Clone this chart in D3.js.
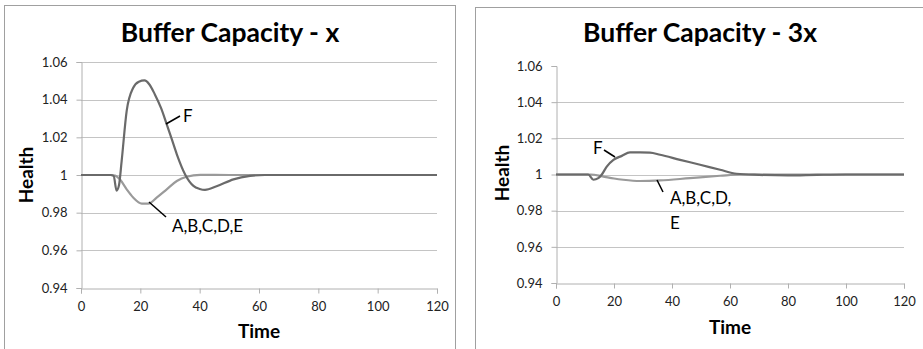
<!DOCTYPE html>
<html><head><meta charset="utf-8">
<script src="https://cdn.jsdelivr.net/npm/d3@7"></script>
<style>html,body{margin:0;padding:0;background:#fff;}svg{display:block;}</style>
</head><body>
<svg id="c" width="923" height="349"></svg>
<script>
// ---- data ----
const xTicks = [0, 20, 40, 60, 80, 100, 120];
const yTicks = [0.94, 0.96, 0.98, 1, 1.02, 1.04, 1.06];
const yTickLabels = ["0.94", "0.96", "0.98", "1", "1.02", "1.04", "1.06"];
const titles = ["Buffer Capacity - x", "Buffer Capacity - 3x"];
const xAxisTitle = "Time";
const yAxisTitle = "Health";

// Buffer Capacity - x : series F  [time, health]
const leftF = [[0,1],[5,1],[10,1],[11,0.9995],[12,0.9917],[12.8,0.9945],[13.7,1.0074],[15.4,1.034],[17.6,1.0463],[19.5,1.0495],[21.4,1.0502],[23,1.0482],[24.9,1.0428],[27,1.0355],[28.9,1.0269],[30.6,1.019],[32.3,1.011],[35.1,1.0003],[37.9,0.9942],[40,0.9926],[41.8,0.9921],[45.7,0.994],[51.4,0.9977],[57,0.9995],[62,1],[80,1],[100,1],[120,1]];
// Buffer Capacity - x : series A,B,C,D,E
const leftABCDE = [[0,1],[5,1],[10,1],[11.5,0.9997],[13.1,0.9977],[15.4,0.9924],[17.6,0.988],[20.5,0.9848],[22.7,0.9848],[25.5,0.988],[28.9,0.9924],[32.3,0.9968],[35.6,0.9991],[40.2,1.0001],[50,1],[70,1],[90,1],[120,1]];
// Buffer Capacity - 3x : series F
const rightF = [[0,1],[5,1],[11.1,1],[12.9,0.9971],[14.6,0.998],[15.8,1.0],[17.5,1.0044],[19.8,1.0081],[22.7,1.0103],[25.5,1.0122],[29,1.0122],[32.4,1.0121],[35.9,1.0109],[42.8,1.0081],[49.7,1.0054],[56.6,1.0026],[62.3,1.0004],[70,0.9998],[80,0.9995],[90,0.9998],[100,1],[120,1]];
// Buffer Capacity - 3x : series A,B,C,D,E
const rightABCDE = [[0,1],[5,1],[12,1],[16,0.999],[20,0.9978],[23.2,0.9971],[28.9,0.9964],[35.9,0.9967],[46.2,0.998],[56.6,0.9993],[63.6,1],[80,1],[100,1],[120,1]];

const annLeft = { F: "F", rest: ["A,B,C,D,E"] };
const annRight = { F: "F", rest: ["A,B,C,D,", "E"] };

// ---- drawing ----
const svg = d3.select("#c");
const FONT = "Lato, 'Open Sans', sans-serif";

function panel(cfg) {
  const g = svg.append("g");
  g.append("rect").attr("x", cfg.box[0]).attr("y", cfg.box[1])
    .attr("width", cfg.box[2]).attr("height", cfg.box[3])
    .attr("fill", "#fff").attr("stroke", "#a0a0a0").attr("stroke-width", 1);

  const x = d3.scaleLinear().domain([0, 120]).range(cfg.xr);
  const y = d3.scaleLinear().domain([0.94, 1.06]).range(cfg.yr);

  // gridlines
  g.append("g").selectAll("line").data(yTicks.filter(v => v > 0.941 && (cfg.topGrid || v < 1.059)))
    .join("line")
    .attr("x1", cfg.xr[0]).attr("x2", cfg.xr[1])
    .attr("y1", d => Math.round(y(d)) + 0.5).attr("y2", d => Math.round(y(d)) + 0.5)
    .attr("stroke", "#c4c4c4").attr("stroke-width", 1);

  // axes
  const xa = g.append("g").attr("transform", `translate(0,${Math.round(y(0.94)) + 0.5})`)
    .call(d3.axisBottom(x).tickValues(xTicks).tickSize(5).tickPadding(8).tickFormat(d3.format("d")));
  const ya = g.append("g").attr("transform", `translate(${Math.round(x(0)) + 0.5},0)`)
    .call(d3.axisLeft(y).tickValues(yTicks).tickSize(5).tickPadding(9)
      .tickFormat((d, i) => yTickLabels[i]));
  [xa, ya].forEach(a => {
    a.select(".domain").attr("stroke", "#b0b0b0");
    a.selectAll(".tick line").attr("stroke", "#b0b0b0");
    a.selectAll(".tick text").attr("fill", "#222").attr("font-size", 13).attr("font-family", FONT);
  });

  const line = d3.line().x(d => x(d[0])).y(d => y(d[1])).curve(d3.curveMonotoneX);
  g.append("path").datum(cfg.abcde).attr("d", line).attr("fill", "none")
    .attr("stroke", "#9a9a9a").attr("stroke-width", 2.2);
  g.append("path").datum(cfg.f).attr("d", line).attr("fill", "none")
    .attr("stroke", "#6a6a6a").attr("stroke-width", 2.2);

  // titles
  g.append("text").attr("x", cfg.titleX).attr("y", 42).attr("text-anchor", "middle")
    .attr("font-family", FONT).attr("font-weight", "bold").attr("font-size", 26.5)
    .attr("fill", "#000").text(cfg.title);
  g.append("text").attr("x", cfg.timeX).attr("y", cfg.timeY).attr("text-anchor", "middle")
    .attr("font-family", FONT).attr("font-weight", "bold").attr("font-size", 19)
    .attr("fill", "#000").text(xAxisTitle);
  g.append("text").attr("transform", `translate(${cfg.healthX},${cfg.healthY}) rotate(-90)`)
    .attr("text-anchor", "middle")
    .attr("font-family", FONT).attr("font-weight", "bold").attr("font-size", 19)
    .attr("fill", "#000").text(yAxisTitle);

  // annotations
  cfg.leaders.forEach(l => {
    g.append("line").attr("x1", l[0]).attr("y1", l[1]).attr("x2", l[2]).attr("y2", l[3])
      .attr("stroke", "#000").attr("stroke-width", 1.5);
  });
  cfg.labels.forEach(l => {
    g.append("text").attr("x", l[0]).attr("y", l[1]).attr("font-family", FONT)
      .attr("font-size", 17).attr("fill", "#000").text(l[2]);
  });
}

panel({
  box: [4.5, 5.5, 451, 360], xr: [81, 437], yr: [288, 62], topGrid: true,
  f: leftF, abcde: leftABCDE, title: titles[0], titleX: 230,
  timeX: 259, timeY: 338, healthX: 33, healthY: 175,
  leaders: [[166, 124, 180, 116], [149, 202, 166, 217]],
  labels: [[183, 122, annLeft.F], [172, 232, annLeft.rest[0]]]
});
panel({
  box: [475.5, 7.5, 460, 360], xr: [556, 904], yr: [283, 66], topGrid: false,
  f: rightF, abcde: rightABCDE, title: titles[1], titleX: 700,
  timeX: 730, timeY: 334, healthX: 509, healthY: 173,
  leaders: [[604, 150, 615, 157], [657, 180, 663, 192]],
  labels: [[593, 154, annRight.F], [670, 204, annRight.rest[0]], [670, 229, annRight.rest[1]]]
});
</script>
</body></html>
